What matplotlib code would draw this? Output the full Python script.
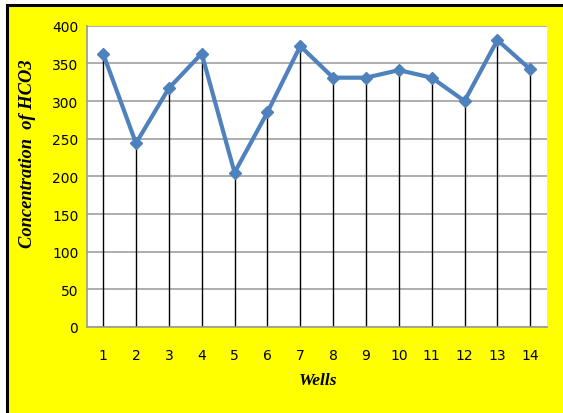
import matplotlib
matplotlib.use("Agg")
import matplotlib.pyplot as plt
from matplotlib.patches import Rectangle
from matplotlib.lines import Line2D

wells = [1, 2, 3, 4, 5, 6, 7, 8, 9, 10, 11, 12, 13, 14]
hco3 = [363, 244, 317, 363, 205, 285, 373, 331, 331, 341, 331, 300, 381, 342]
y_ticks = [0, 50, 100, 150, 200, 250, 300, 350, 400]

W, H = 563, 414
fig = plt.figure(figsize=(W / 100, H / 100), dpi=100, facecolor="white")

# yellow panel with black left/top edges
fig.patches.append(Rectangle((7 / W, 0), 1 - 7 / W, 1 - 6 / H, transform=fig.transFigure,
                             facecolor="#ffff00", edgecolor="none", zorder=-2))
fig.lines.append(Line2D([7 / W, 7 / W], [0, 1 - 6 / H], transform=fig.transFigure,
                        color="black", lw=2.2, zorder=-1))
fig.lines.append(Line2D([7 / W, 1], [1 - 6 / H, 1 - 6 / H], transform=fig.transFigure,
                        color="black", lw=2.2, zorder=-1))

left, right, top, bottom = 86.7, 546.7, 26.7, 328
ax = fig.add_axes([left / W, 1 - bottom / H, (right - left) / W, (bottom - top) / H])
ax.set_zorder(2)
ax.set_facecolor("white")

ax.set_xlim(0.5, 14.5)
ax.set_ylim(0, 400)
ax.set_yticks(y_ticks)
ax.set_xticks(wells)
ax.yaxis.grid(True, color="#a0a0a0", lw=1.2)
ax.set_axisbelow(True)

# drop lines from each point to the axis
ax.vlines(wells, 0, hco3, colors="black", lw=1.0, zorder=2)
ax.plot(wells, hco3, color="#4f81bd", lw=3, marker="D", markersize=6.5,
        markerfacecolor="#4f81bd", markeredgecolor="#4f81bd", zorder=3)

for side in ["top", "right"]:
    ax.spines[side].set_visible(False)
for side in ["left", "bottom"]:
    ax.spines[side].set_color("#9a9a9a")
    ax.spines[side].set_linewidth(1.2)

ax.tick_params(axis="both", length=0, labelsize=10, colors="black")
ax.tick_params(axis="x", pad=15)
ax.tick_params(axis="y", pad=6)

fig.text(318 / W, 1 - 381.5 / H, "Wells", family="Liberation Serif", style="italic",
         weight="bold", fontsize=12.5, ha="center", va="center")
fig.text(28 / W, 1 - 154 / H, "Concentration  of HCO3", family="Liberation Serif",
         style="italic", weight="bold", fontsize=13.3, rotation=90,
         ha="center", va="center")

fig.savefig("out.png", dpi=100, facecolor=fig.get_facecolor())
